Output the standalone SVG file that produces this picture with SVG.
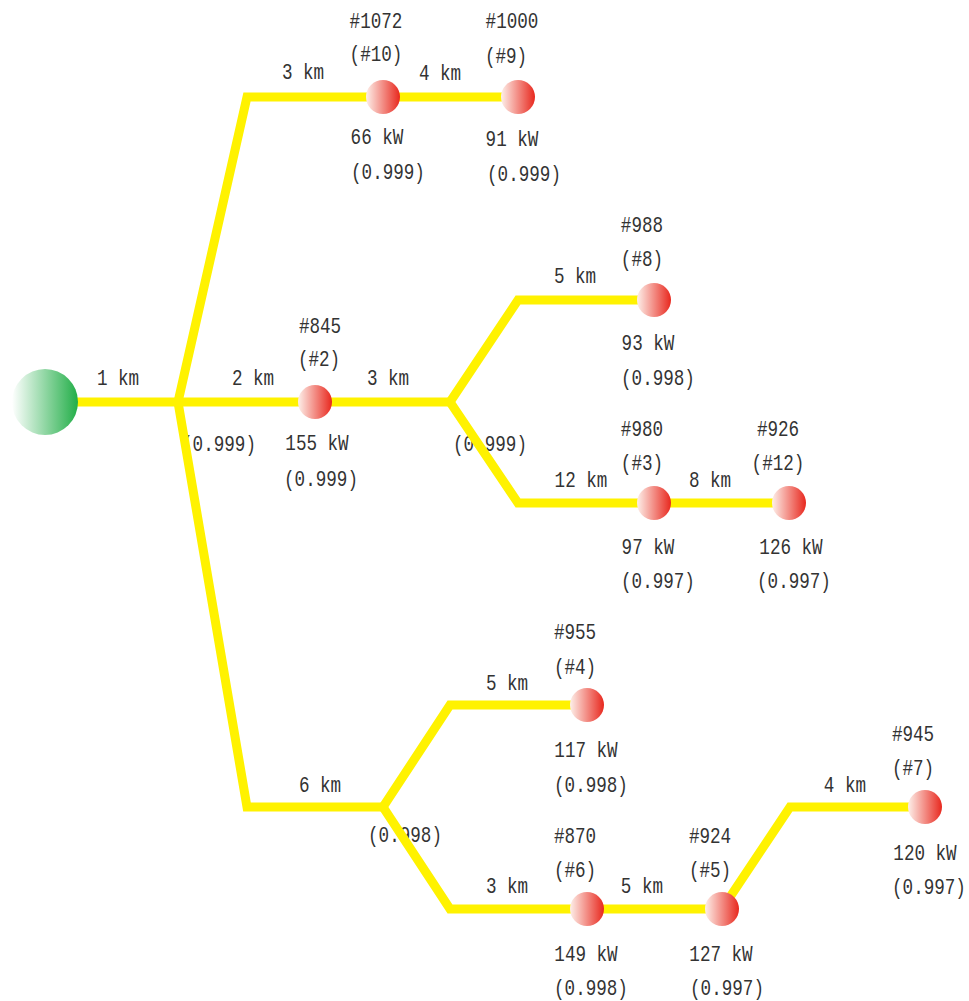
<svg xmlns="http://www.w3.org/2000/svg" width="969" height="1001" viewBox="0 0 969 1001">
<defs>
<linearGradient id="gN" x1="0" y1="0" x2="1" y2="0">
<stop offset="0" stop-color="#fdf0ea"/>
<stop offset="1" stop-color="#e8281e"/>
</linearGradient>
<linearGradient id="gS" x1="0" y1="0" x2="1" y2="0">
<stop offset="0" stop-color="#ffffff"/>
<stop offset="1" stop-color="#22ae48"/>
</linearGradient>
<style>
text{font-family:"Liberation Mono","DejaVu Sans Mono",monospace;font-size:22px;fill:#333;text-anchor:middle}
.ln{fill:none;stroke:#fff200;stroke-width:9;stroke-linejoin:miter;stroke-linecap:butt}
.nd{fill:url(#gN)}
</style>
</defs>
<rect width="969" height="1001" fill="#fff"/>
<g id="junction-labels" transform="scale(0.8 1)">
<text x="273.75" y="451">(0.999)</text>
<text x="612.5" y="451">(0.999)</text>
<text x="506.25" y="842">(0.998)</text>
</g>
<g id="edge-labels" transform="scale(0.8 1)">
<text x="147.5" y="385">1 km</text>
<text x="378.75" y="79">3 km</text>
<text x="550" y="80">4 km</text>
<text x="316.25" y="385">2 km</text>
<text x="485" y="385">3 km</text>
<text x="718.75" y="283">5 km</text>
<text x="726.25" y="487">12 km</text>
<text x="887.5" y="487">8 km</text>
<text x="400" y="792">6 km</text>
<text x="633.75" y="690">5 km</text>
<text x="633.75" y="893">3 km</text>
<text x="802.5" y="893">5 km</text>
<text x="1056.25" y="792">4 km</text>
</g>
<g id="connectors">
<path class="ln" d="M45,402 H450"/>
<path class="ln" d="M178,402 L247,97 H518"/>
<path class="ln" d="M178,402 L247,807 H383"/>
<path class="ln" d="M450,402 L518,300 H654"/>
<path class="ln" d="M450,402 L518,503 H789"/>
<path class="ln" d="M383,807 L450,705 H587"/>
<path class="ln" d="M383,807 L450,909 H722 L790,807 H925"/>
</g>
<g id="source"><circle cx="45" cy="402" r="33" fill="url(#gS)"/></g>
<g id="n10"><circle class="nd" cx="383" cy="97" r="17"/>
<g transform="scale(0.8 1)"><text x="470" y="28">#1072</text><text x="470" y="61">(#10)</text><text x="471.25" y="144">66 kW</text><text x="485" y="179">(0.999)</text></g></g>
<g id="n9"><circle class="nd" cx="518" cy="97" r="17"/>
<g transform="scale(0.8 1)"><text x="640" y="28">#1000</text><text x="632.5" y="63">(#9)</text><text x="640" y="146">91 kW</text><text x="655" y="181">(0.999)</text></g></g>
<g id="n2"><circle class="nd" cx="315" cy="402" r="17"/>
<g transform="scale(0.8 1)"><text x="400" y="333">#845</text><text x="398.75" y="366">(#2)</text><text x="396.25" y="450">155 kW</text><text x="401.25" y="486">(0.999)</text></g></g>
<g id="n8"><circle class="nd" cx="654" cy="300" r="17"/>
<g transform="scale(0.8 1)"><text x="802.5" y="232">#988</text><text x="802.5" y="266">(#8)</text><text x="810" y="350">93 kW</text><text x="822.5" y="385">(0.998)</text></g></g>
<g id="n3"><circle class="nd" cx="654" cy="503" r="17"/>
<g transform="scale(0.8 1)"><text x="802.5" y="436">#980</text><text x="802.5" y="470">(#3)</text><text x="810" y="554">97 kW</text><text x="822.5" y="588">(0.997)</text></g></g>
<g id="n12"><circle class="nd" cx="789" cy="503" r="17"/>
<g transform="scale(0.8 1)"><text x="972.5" y="436">#926</text><text x="972.5" y="470">(#12)</text><text x="988.75" y="554">126 kW</text><text x="992.5" y="588">(0.997)</text></g></g>
<g id="n4"><circle class="nd" cx="587" cy="705" r="17"/>
<g transform="scale(0.8 1)"><text x="718.75" y="639">#955</text><text x="718.75" y="674">(#4)</text><text x="732.5" y="757">117 kW</text><text x="738.75" y="792">(0.998)</text></g></g>
<g id="n6"><circle class="nd" cx="587" cy="909" r="17"/>
<g transform="scale(0.8 1)"><text x="718.75" y="843">#870</text><text x="718.75" y="877">(#6)</text><text x="732.5" y="961">149 kW</text><text x="738.75" y="995">(0.998)</text></g></g>
<g id="n5"><circle class="nd" cx="722" cy="909" r="17"/>
<g transform="scale(0.8 1)"><text x="887.5" y="843">#924</text><text x="887.5" y="877">(#5)</text><text x="901.25" y="961">127 kW</text><text x="908.75" y="995">(0.997)</text></g></g>
<g id="n7"><circle class="nd" cx="925" cy="807" r="17"/>
<g transform="scale(0.8 1)"><text x="1141.25" y="741">#945</text><text x="1141.25" y="775">(#7)</text><text x="1156.25" y="860">120 kW</text><text x="1161.25" y="894">(0.997)</text></g></g>
</svg>
